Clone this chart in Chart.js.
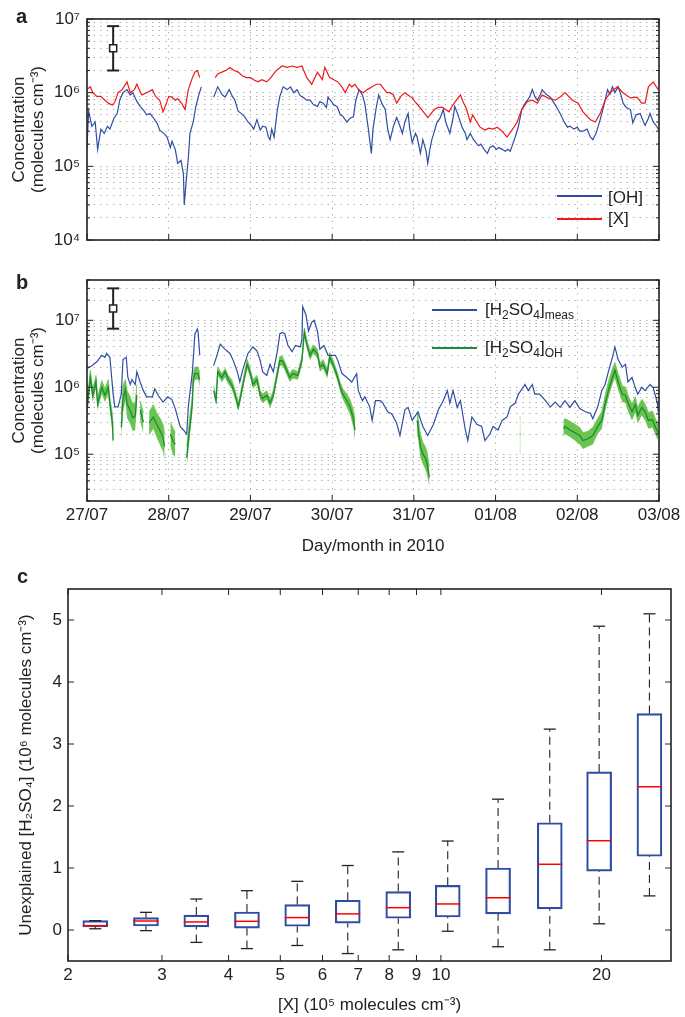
<!DOCTYPE html>
<html lang="en">
<head>
<meta charset="UTF-8">
<title>OH, X and H2SO4 concentrations</title>
<script src="https://cdn.jsdelivr.net/npm/chart.js@4.4.1/dist/chart.umd.min.js"></script>
<style>
  body { margin: 0; background: #fff; font-family: 'Liberation Sans', Arial, Helvetica, sans-serif; color: #222; }
  #page { position: relative; width: 685px; height: 1017px; overflow: hidden; }
  canvas { position: absolute; left: 0; }
  .panel { position: absolute; font-weight: bold; font-size: 20px; }
  .key { position: absolute; font-size: 17px; line-height: 20px; white-space: nowrap; }
  .key sub { font-size: 12px; vertical-align: -4px; line-height: 0; }
  .swatch { position: absolute; height: 1.5px; width: 45px; }
</style>
</head>
<body>
<div id="page">
  <canvas id="chartA" width="685" height="262" style="top:0"></canvas>
  <canvas id="chartB" width="685" height="300" style="top:262px"></canvas>
  <canvas id="chartC" width="685" height="455" style="top:562px"></canvas>

  <div class="panel" style="left:16px;top:5px">a</div>
  <div class="panel" style="left:16px;top:271px">b</div>
  <div class="panel" style="left:17px;top:565px">c</div>

  <!-- legend a -->
  <div class="swatch" style="left:557px;top:195px;background:#2f4ea3"></div>
  <div class="key" style="left:608px;top:188px">[OH]</div>
  <div class="swatch" style="left:557px;top:218px;background:#f01818"></div>
  <div class="key" style="left:608px;top:209px">[X]</div>

  <!-- legend b -->
  <div class="swatch" style="left:432px;top:309px;background:#2f4ea3"></div>
  <div class="key" style="left:485px;top:300px">[H<sub>2</sub>SO<sub>4</sub>]<sub>meas</sub></div>
  <div class="swatch" style="left:432px;top:347px;background:#1c8a36"></div>
  <div class="key" style="left:485px;top:338px">[H<sub>2</sub>SO<sub>4</sub>]<sub>OH</sub></div>
</div>
<script>
    // tick labels for the time axis (days after 27/07)
    const dayLabels = ['27/07', '28/07', '29/07', '30/07', '31/07', '01/08', '02/08', '03/08'];

    // panel a: [day, concentration]
    const ohConc = [[0.00,1.8e5],[0.02,5.6e5],[0.06,3.5e5],[0.10,4.0e5],[0.13,1.7e5],[0.17,3.2e5],[0.21,2.8e5],[0.25,3.5e5],[0.28,3.2e5],[0.33,4.5e5],[0.37,5.2e5],[0.40,7.9e5],[0.44,1.0e6],[0.49,1.1e6],[0.53,9.3e5],[0.56,1.0e6],[0.61,7.6e5],[0.65,6.5e5],[0.70,5.6e5],[0.73,5.0e5],[0.77,5.2e5],[0.81,4.6e5],[0.86,3.8e5],[0.89,3.1e5],[0.94,2.8e5],[0.98,2.5e5],[1.02,1.8e5],[1.04,2.2e5],[1.08,1.7e5],[1.11,1.1e5],[1.15,1.2e5],[1.18,7.9e4],[1.19,3.0e4],[1.21,5.6e4],[1.24,1.3e5],[1.26,2.8e5],[1.30,4.0e5],[1.33,6.3e5],[1.37,9.5e5],[1.40,1.2e6],[1.47,null],
        [1.55,8.7e5],[1.60,1.2e6],[1.65,9.5e5],[1.69,8.7e5],[1.74,1.1e6],[1.78,8.9e5],[1.81,7.9e5],[1.85,5.6e5],[1.89,5.2e5],[1.93,4.7e5],[1.97,4.0e5],[2.01,3.6e5],[2.04,3.2e5],[2.08,4.3e5],[2.12,3.1e5],[2.15,3.5e5],[2.19,3.4e5],[2.22,2.5e5],[2.24,2.3e5],[2.26,3.2e5],[2.29,2.5e5],[2.33,5.9e5],[2.36,8.9e5],[2.40,1.2e6],[2.45,1.1e6],[2.49,1.2e6],[2.53,1.0e6],[2.57,1.1e6],[2.61,9.1e5],[2.64,8.7e5],[2.69,7.9e5],[2.73,7.9e5],[2.77,6.9e5],[2.82,6.5e5],[2.85,7.6e5],[2.89,7.2e5],[2.93,6.3e5],[2.95,8.7e5],[2.99,7.6e5],
        [3.02,6.8e5],[3.06,6.5e5],[3.10,5.0e5],[3.13,4.8e5],[3.18,4.0e5],[3.22,4.5e5],[3.26,4.7e5],[3.29,7.9e5],[3.33,1.1e6],[3.37,9.3e5],[3.40,7.1e5],[3.44,3.4e5],[3.48,1.5e5],[3.50,3.2e5],[3.54,6.3e5],[3.57,9.3e5],[3.61,7.1e5],[3.65,5.9e5],[3.68,3.2e5],[3.71,2.3e5],[3.75,3.5e5],[3.79,4.6e5],[3.83,3.5e5],[3.86,2.8e5],[3.89,4.0e5],[3.93,5.2e5],[3.95,3.2e5],[3.98,2.1e5],[4.02,2.8e5],[4.04,2.5e5],[4.08,1.5e5],[4.11,2.3e5],[4.15,1.6e5],[4.17,1.1e5],[4.20,1.8e5],[4.22,2.3e5],[4.26,3.2e5],[4.28,3.9e5],[4.32,4.5e5],[4.36,5.9e5],[4.39,4.0e5],[4.44,2.8e5],[4.48,4.5e5],[4.50,6.5e5],[4.54,5.0e5],[4.59,3.4e5],[4.63,2.8e5],[4.65,2.3e5],[4.69,2.8e5],[4.73,2.3e5],[4.76,2.1e5],[4.79,1.9e5],[4.82,2.0e5],[4.86,1.7e5],[4.90,1.5e5],[4.93,1.8e5],[4.97,1.9e5],
        [5.01,1.7e5],[5.04,1.8e5],[5.08,1.7e5],[5.12,1.6e5],[5.15,1.7e5],[5.18,1.6e5],[5.21,2.0e5],[5.24,2.5e5],[5.28,3.5e5],[5.32,5.9e5],[5.36,7.1e5],[5.39,7.9e5],[5.42,8.9e5],[5.45,1.1e6],[5.48,8.9e5],[5.51,7.9e5],[5.55,9.5e5],[5.57,1.1e6],[5.62,9.5e5],[5.67,8.7e5],[5.72,7.1e5],[5.75,6.3e5],[5.79,5.2e5],[5.84,4.0e5],[5.88,3.4e5],[5.91,3.5e5],[5.96,3.2e5],[6.00,3.4e5],[6.03,3.0e5],[6.07,3.0e5],[6.12,3.2e5],[6.16,2.5e5],[6.19,2.3e5],[6.23,2.8e5],[6.28,4.3e5],[6.32,6.3e5],[6.37,1.1e6],[6.40,9.5e5],[6.43,1.2e6],[6.46,1.0e6],[6.50,1.2e6],[6.54,8.9e5],[6.56,7.2e5],[6.60,6.3e5],[6.65,5.9e5],[6.68,3.9e5],[6.72,5.0e5],[6.77,5.2e5],[6.81,4.0e5],[6.83,3.6e5],[6.87,4.5e5],[6.89,5.2e5],[6.93,4.0e5],[6.97,3.5e5],[7.00,3.1e5]];

    const xConc = [[0.00,1.1e6],[0.04,1.2e6],[0.07,1.0e6],[0.12,8.9e5],[0.17,8.9e5],[0.22,7.9e5],[0.27,7.1e5],[0.31,6.8e5],[0.34,7.4e5],[0.38,1.0e6],[0.43,1.1e6],[0.49,1.4e6],[0.53,1.0e6],[0.58,1.1e6],[0.61,1.3e6],[0.67,9.3e5],[0.73,1.0e6],[0.80,1.1e6],[0.84,8.9e5],[0.89,7.9e5],[0.93,5.5e5],[0.97,7.1e5],[1.00,8.9e5],[1.04,8.7e5],[1.08,7.9e5],[1.11,8.3e5],[1.16,7.1e5],[1.20,5.9e5],[1.24,1.1e6],[1.29,1.6e6],[1.32,1.9e6],[1.35,2.0e6],[1.38,1.6e6],[1.46,null],
        [1.57,1.6e6],[1.60,1.8e6],[1.65,1.9e6],[1.70,2.0e6],[1.75,2.2e6],[1.80,2.0e6],[1.85,1.9e6],[1.90,1.7e6],[1.95,1.6e6],[2.00,1.6e6],[2.04,1.5e6],[2.09,1.4e6],[2.14,1.5e6],[2.20,1.4e6],[2.25,1.6e6],[2.30,1.9e6],[2.34,2.1e6],[2.39,2.3e6],[2.45,2.2e6],[2.51,2.3e6],[2.57,2.2e6],[2.63,2.3e6],[2.69,1.6e6],[2.75,1.3e6],[2.82,1.9e6],[2.88,1.5e6],[2.91,2.2e6],[2.97,1.6e6],
        [3.02,1.5e6],[3.07,1.4e6],[3.12,1.2e6],[3.16,1.0e6],[3.21,1.3e6],[3.24,1.2e6],[3.28,1.3e6],[3.32,1.1e6],[3.38,1.0e6],[3.43,1.1e6],[3.49,1.2e6],[3.54,1.3e6],[3.59,1.3e6],[3.64,1.1e6],[3.67,1.0e6],[3.71,1.0e6],[3.75,9.3e5],[3.79,7.2e5],[3.84,8.9e5],[3.89,1.0e6],[3.94,9.1e5],[3.98,8.5e5],[4.01,7.6e5],[4.05,6.8e5],[4.11,5.6e5],[4.17,4.6e5],[4.21,5.2e5],[4.25,5.9e5],[4.30,6.3e5],[4.35,6.3e5],[4.39,5.9e5],[4.43,5.5e5],[4.47,6.6e5],[4.52,7.9e5],[4.57,9.3e5],[4.60,7.6e5],[4.64,6.2e5],[4.69,4.0e5],[4.72,5.0e5],[4.77,4.0e5],[4.81,3.4e5],[4.87,3.1e5],[4.92,3.3e5],[4.97,3.2e5],
        [5.02,3.4e5],[5.08,3.0e5],[5.14,2.5e5],[5.20,3.1e5],[5.26,3.9e5],[5.32,5.9e5],[5.39,7.6e5],[5.45,7.9e5],[5.51,7.2e5],[5.57,9.3e5],[5.64,8.5e5],[5.73,7.9e5],[5.79,8.7e5],[5.85,1.0e6],[5.94,7.9e5],[6.01,7.2e5],[6.07,5.5e5],[6.16,4.3e5],[6.22,4.0e5],[6.28,5.2e5],[6.34,7.9e5],[6.40,1.0e6],[6.49,1.2e6],[6.56,1.0e6],[6.65,8.5e5],[6.73,8.7e5],[6.79,7.2e5],[6.83,7.2e5],[6.87,1.2e6],[6.93,1.4e6],[6.99,1.1e6]];

    // panel b: measured H2SO4 [day, concentration]
    const h2so4Meas = [[0.00,1.9e6],[0.06,2.1e6],[0.12,2.4e6],[0.18,3.0e6],[0.22,2.8e6],[0.24,3.2e6],[0.28,2.8e6],[0.32,7.9e5],[0.34,5.1e5],[0.38,5.1e5],[0.42,7.9e5],[0.44,2.6e6],[0.48,2.8e6],[0.50,1.4e6],[0.53,1.1e6],[0.55,1.3e6],[0.59,1.1e6],[0.61,1.7e6],[0.65,1.2e6],[0.69,8.9e5],[0.73,7.2e5],[0.80,7.2e5],[0.83,9.5e5],[0.87,7.6e5],[0.93,6.0e5],[0.99,7.2e5],[1.04,6.5e5],[1.08,4.8e5],[1.14,2.6e5],[1.18,2.3e5],[1.22,2.0e5],[1.24,5.1e5],[1.29,1.7e6],[1.32,6.2e6],[1.35,7.4e6],[1.36,6.6e6],[1.38,3.0e6],[1.46,null],
        [1.55,2.1e6],[1.59,3.0e6],[1.63,4.4e6],[1.66,4.0e6],[1.71,3.5e6],[1.75,3.2e6],[1.79,2.5e6],[1.84,1.7e6],[1.87,1.2e6],[1.91,1.9e6],[1.97,3.2e6],[2.03,4.0e6],[2.08,3.5e6],[2.12,2.5e6],[2.15,1.7e6],[2.20,1.5e6],[2.24,2.2e6],[2.28,1.7e6],[2.33,3.5e6],[2.36,6.3e6],[2.39,6.6e6],[2.42,6.3e6],[2.46,4.2e6],[2.51,3.4e6],[2.55,4.2e6],[2.61,4.0e6],[2.63,5.2e6],[2.64,1.6e7],[2.68,1.2e7],[2.71,6.9e6],[2.75,9.3e6],[2.78,1.0e7],[2.82,6.9e6],[2.85,3.7e6],[2.90,4.2e6],[2.95,3.0e6],
        [3.00,3.0e6],[3.04,3.0e6],[3.07,2.5e6],[3.12,1.6e6],[3.18,1.4e6],[3.24,1.2e6],[3.30,1.6e6],[3.32,8.9e5],[3.37,6.3e5],[3.40,7.2e5],[3.46,5.1e5],[3.49,3.2e5],[3.53,6.3e5],[3.59,6.3e5],[3.62,5.8e5],[3.68,4.3e5],[3.73,4.0e5],[3.79,2.9e5],[3.83,1.9e5],[3.89,4.6e5],[3.93,5.0e5],[3.98,3.2e5],[4.05,4.3e5],[4.11,2.6e5],[4.17,1.9e5],[4.24,2.8e5],[4.30,4.6e5],[4.36,6.3e5],[4.41,8.9e5],[4.44,5.8e5],[4.48,8.9e5],[4.53,5.0e5],[4.57,6.3e5],[4.63,2.3e5],[4.66,1.6e5],[4.71,3.6e5],[4.77,2.8e5],[4.83,2.6e5],[4.87,1.6e5],[4.93,2.0e5],[4.97,2.6e5],
        [5.03,2.3e5],[5.08,3.2e5],[5.14,3.6e5],[5.18,5.1e5],[5.24,5.8e5],[5.28,7.9e5],[5.32,9.3e5],[5.36,1.1e6],[5.40,8.9e5],[5.45,1.1e6],[5.48,7.9e5],[5.54,7.9e5],[5.61,6.3e5],[5.67,5.1e5],[5.73,6.0e5],[5.79,5.0e5],[5.85,6.3e5],[5.91,5.0e5],[5.97,6.3e5],[6.03,4.8e5],[6.10,4.3e5],[6.16,4.1e5],[6.19,3.4e5],[6.25,5.1e5],[6.30,8.9e5],[6.34,1.1e6],[6.38,1.7e6],[6.43,2.8e6],[6.46,4.0e6],[6.50,2.6e6],[6.55,2.0e6],[6.59,2.2e6],[6.62,1.2e6],[6.67,1.4e6],[6.71,9.8e5],[6.74,7.9e5],[6.79,1.0e6],[6.83,8.9e5],[6.89,1.1e6],[6.93,9.8e5],[6.98,5.8e5],[6.99,4.3e5]];

    // panel b: H2SO4 from OH [day, central, low, high]
    const h2so4OH = [[0.00,4.5e5,3.5e5,5.6e5],[0.04,1.4e6,1.1e6,1.8e6],[0.07,7.6e5,6.0e5,9.5e5],[0.11,1.2e6,9.5e5,1.5e6],[0.13,5.6e5,4.5e5,7.1e5],[0.18,1.0e6,7.9e5,1.26e6],[0.22,7.6e5,6.0e5,9.5e5],[0.26,1.0e6,7.9e5,1.3e6],[0.28,5.6e5,4.5e5,7.1e5],[0.31,3.0e5,2.2e5,4.0e5],[0.32,1.6e5,1.1e5,2.2e5],[0.38,null,null,null],
        [0.42,2.5e5,1.6e5,4.0e5],[0.44,6.6e5,4.2e5,1.05e6],[0.47,9.3e5,6.3e5,1.3e6],[0.49,5.6e5,3.5e5,8.9e5],[0.53,4.5e5,2.8e5,7.1e5],[0.56,3.5e5,2.2e5,5.6e5],[0.59,3.7e5,2.3e5,5.9e5],[0.61,7.6e5,5.0e5,1.1e6],[0.63,null,null,null],
        [0.65,4.6e5,3.2e5,6.3e5],[0.69,3.0e5,2.0e5,4.2e5],[0.72,null,null,null],
        [0.76,2.9e5,1.9e5,4.2e5],[0.81,3.6e5,2.4e5,5.5e5],[0.86,2.7e5,1.7e5,4.0e5],[0.89,2.3e5,1.4e5,3.5e5],[0.93,1.8e5,1.1e5,2.8e5],[0.95,1.3e5,7.9e4,2.0e5],[0.99,null,null,null],
        [1.02,2.0e5,1.3e5,3.0e5],[1.05,1.6e5,1.0e5,2.5e5],[1.08,1.4e5,8.9e4,2.1e5],[1.15,null,null,null],
        [1.22,8.9e4,6.3e4,1.3e5],[1.26,2.7e5,1.9e5,3.8e5],[1.29,5.8e5,4.4e5,7.6e5],[1.30,1.3e6,1.0e6,1.6e6],[1.32,1.6e6,1.3e6,2.0e6],[1.36,1.6e6,1.3e6,2.0e6],[1.38,1.3e6,1.0e6,1.6e6],[1.46,null,null,null],
        [1.55,8.9e5,7.6e5,1.04e6],[1.58,6.3e5,5.4e5,7.4e5],[1.60,1.7e6,1.5e6,2.0e6],[1.65,1.4e6,1.2e6,1.6e6],[1.69,1.7e6,1.4e6,1.9e6],[1.73,1.3e6,1.1e6,1.5e6],[1.77,1.1e6,9.6e5,1.3e6],[1.81,7.9e5,6.8e5,9.3e5],[1.85,5.1e5,4.4e5,6.0e5],[1.87,6.3e5,5.4e5,7.4e5],[1.91,1.1e6,9.6e5,1.3e6],[1.96,2.2e6,1.9e6,2.6e6],[2.00,1.6e6,1.35e6,1.85e6],[2.03,1.1e6,9.6e5,1.3e6],[2.08,1.3e6,1.1e6,1.5e6],[2.12,7.6e5,6.5e5,8.9e5],[2.15,6.8e5,5.8e5,7.9e5],[2.20,7.6e5,6.5e5,8.9e5],[2.24,5.8e5,4.9e5,6.8e5],[2.28,7.6e5,6.5e5,8.9e5],[2.33,1.6e6,1.35e6,1.85e6],[2.36,2.5e6,2.1e6,2.9e6],[2.39,2.5e6,2.1e6,2.9e6],[2.42,2.1e6,1.8e6,2.4e6],[2.48,1.4e6,1.2e6,1.6e6],[2.52,1.6e6,1.35e6,1.85e6],[2.58,1.5e6,1.3e6,1.7e6],[2.63,2.5e6,2.1e6,2.9e6],[2.66,6.6e6,5.6e6,7.7e6],[2.69,4.4e6,3.7e6,5.1e6],[2.73,3.0e6,2.5e6,3.5e6],[2.77,3.7e6,3.2e6,4.3e6],[2.82,3.2e6,2.7e6,3.7e6],[2.85,2.0e6,1.7e6,2.3e6],[2.89,2.2e6,1.9e6,2.6e6],[2.94,1.6e6,1.35e6,1.85e6],[2.97,2.8e6,2.4e6,3.3e6],[3.01,2.2e6,1.9e6,2.6e6],[3.06,1.5e6,1.3e6,1.7e6],[3.10,1.0e6,8.5e5,1.17e6],[3.13,7.9e5,6.6e5,9.5e5],[3.18,6.3e5,5.0e5,7.9e5],[3.22,5.0e5,3.9e5,6.5e5],[3.26,3.4e5,2.5e5,4.6e5],[3.28,2.3e5,1.6e5,3.2e5],[3.40,null,null,null],
        [4.04,3.2e5,2.4e5,4.2e5],[4.05,2.6e5,1.8e5,3.6e5],[4.08,1.3e5,8.9e4,2.0e5],[4.11,1.0e5,7.1e4,1.5e5],[4.14,8.9e4,6.0e4,1.3e5],[4.16,7.4e4,5.0e4,1.1e5],[4.19,4.5e4,3.2e4,6.6e4],[4.25,null,null,null],
        [5.295,2.0e5,1.0e5,3.6e5],[5.305,2.0e5,1.0e5,3.6e5],[5.35,null,null,null],
        [5.83,2.4e5,1.8e5,3.2e5],[5.85,2.6e5,2.0e5,3.4e5],[5.91,2.3e5,1.8e5,3.1e5],[5.97,2.1e5,1.6e5,2.8e5],[6.03,1.9e5,1.4e5,2.5e5],[6.07,1.6e5,1.2e5,2.1e5],[6.13,1.7e5,1.3e5,2.2e5],[6.19,1.9e5,1.4e5,2.5e5],[6.25,2.6e5,2.0e5,3.4e5],[6.30,3.2e5,2.4e5,4.3e5],[6.34,5.6e5,4.3e5,7.4e5],[6.38,8.9e5,6.8e5,1.2e6],[6.43,1.4e6,1.1e6,1.9e6],[6.46,1.8e6,1.35e6,2.35e6],[6.50,1.2e6,9.1e5,1.6e6],[6.55,7.9e5,6.0e5,1.05e6],[6.59,7.6e5,5.8e5,1.0e6],[6.62,5.8e5,4.4e5,7.6e5],[6.67,4.3e5,3.2e5,5.6e5],[6.71,5.5e5,4.2e5,7.2e5],[6.74,3.8e5,2.9e5,5.0e5],[6.79,5.0e5,3.8e5,6.6e5],[6.83,4.3e5,3.2e5,5.6e5],[6.87,3.2e5,2.4e5,4.2e5],[6.92,3.3e5,2.5e5,4.4e5],[6.95,2.6e5,2.0e5,3.5e5],[6.99,2.1e5,1.6e5,2.8e5]];

    // typical uncertainty markers [day, central, low, high]
    const errorA = [0.32, 4e6, 2e6, 8e6];
    const errorB = [0.32, 1.5e7, 7.5e6, 3e7];

    // panel c: box plot statistics per [X] bin
    const xBins = [2.25, 2.80, 3.48, 4.33, 5.38, 6.69, 8.32, 10.3, 12.8, 16.0, 19.8, 24.6];
    const whiskerLow = [0.02, -0.01, -0.20, -0.30, -0.25, -0.38, -0.32, -0.02, -0.27, -0.32, 0.10, 0.55];
    const quartile1 = [0.05, 0.065, 0.05, 0.03, 0.06, 0.11, 0.19, 0.21, 0.26, 0.34, 0.95, 1.19];
    const medians = [0.07, 0.145, 0.13, 0.14, 0.20, 0.26, 0.36, 0.42, 0.52, 1.06, 1.44, 2.31];
    const quartile3 = [0.15, 0.20, 0.24, 0.29, 0.41, 0.48, 0.62, 0.72, 1.00, 1.73, 2.55, 3.49];
    const whiskerHigh = [0.15, 0.285, 0.50, 0.634, 0.785, 1.04, 1.26, 1.435, 2.11, 3.24, 4.90, 5.10];
    const xTickValues = [2, 3, 4, 5, 6, 7, 8, 9, 10, 20];

    const ohBlue = '#2f4ea3';
    const xRed = '#f01818';
    const darkGreen = '#1c8a36';
    const lightGreen = '#6cc450';
    const ink = '#222';
    const gridColor = '#b4b4b4';

    Chart.defaults.font.family = "'Liberation Sans', Arial, Helvetica, sans-serif";
    Chart.defaults.font.size = 17;
    Chart.defaults.color = ink;
    Chart.defaults.animation = false;
    Chart.defaults.plugins.legend.display = false;
    Chart.defaults.plugins.tooltip.enabled = false;

    // black box round the plot area with inward ticks on all four sides
    const frameTicks = {
        id: 'frameTicks',
        afterDatasetsDraw(chart, args, opts) {
            const {ctx, chartArea: a, scales} = chart;
            ctx.save();
            ctx.strokeStyle = ink;
            ctx.lineWidth = 1;
            ctx.beginPath();
            scales.x.ticks.forEach(t => {
                const px = scales.x.getPixelForValue(t.value);
                const len = t.major ? opts.major : opts.minor;
                ctx.moveTo(px, a.bottom); ctx.lineTo(px, a.bottom - len);
                ctx.moveTo(px, a.top); ctx.lineTo(px, a.top + len);
            });
            scales.y.ticks.forEach(t => {
                const py = scales.y.getPixelForValue(t.value);
                const len = t.major ? opts.major : opts.minor;
                ctx.moveTo(a.left, py); ctx.lineTo(a.left + len, py);
                ctx.moveTo(a.right, py); ctx.lineTo(a.right - len, py);
            });
            ctx.stroke();
            ctx.lineWidth = 1.6;
            ctx.strokeRect(a.left, a.top, a.right - a.left, a.bottom - a.top);
            ctx.restore();
        }
    };

    const sup = {4: '⁴', 5: '⁵', 6: '⁶', 7: '⁷'};

    // log ticks 1..9 x 10^n between lo and hi
    function logTicks(lo, hi) {
        const out = [];
        for (let e = Math.floor(Math.log10(lo)); e <= Math.ceil(Math.log10(hi)); e++) {
            for (let m = 1; m <= 9; m++) {
                const v = m * Math.pow(10, e);
                if (v >= lo * 0.999 && v <= hi * 1.001) out.push({value: v, major: m === 1});
            }
        }
        return out;
    }

    function concAxis(lo, hi) {
        return {
            type: 'logarithmic',
            min: lo,
            max: hi,
            afterBuildTicks: s => { s.ticks = logTicks(lo, hi); },
            afterFit: s => { s.width = 87; },
            grid: { color: gridColor, drawTicks: false },
            border: { display: false, dash: [1.5, 5] },
            ticks: {
                padding: 7,
                autoSkip: false,
                callback: v => {
                    const e = Math.round(Math.log10(v));
                    return Math.abs(Math.pow(10, e) - v) < 1e-6 * v ? '10' + sup[e] : '';
                }
            },
            title: {
                display: true,
                text: ['Concentration', '(molecules cm⁻³)'],
                font: { size: 17, lineHeight: 1.1 },
                padding: { top: 10, bottom: 0 }
            }
        };
    }

    function dayAxis(height, showLabels) {
        return {
            type: 'linear',
            min: 0,
            max: 7,
            afterBuildTicks: s => { s.ticks = dayLabels.map((_, i) => ({value: i, major: true})); },
            afterFit: s => { s.height = height; },
            grid: { color: gridColor, drawTicks: false },
            border: { display: false, dash: [1.5, 5] },
            ticks: {
                display: showLabels,
                padding: 4,
                maxRotation: 0,
                autoSkip: false,
                callback: v => dayLabels[Math.round(v)]
            },
            title: {
                display: showLabels,
                text: 'Day/month in 2010',
                font: { size: 17, lineHeight: 1.1 },
                padding: { top: 0, bottom: 6 }
            }
        };
    }

    const pts = (rows, k) => rows.map(r => ({x: r[0], y: r[k]}));

    // lower order is drawn on top
    function lineSet(data, color, width, order) {
        return { type: 'line', data, borderColor: color, borderWidth: width, pointRadius: 0,
                 spanGaps: false, fill: false, tension: 0, order };
    }

    function errorSets(e) {
        return [
            { type: 'line', data: [{x: e[0], y: e[2]}, {x: e[0], y: e[3]}], borderColor: ink, borderWidth: 2,
              pointStyle: 'line', pointRadius: 6, pointBorderWidth: 2, pointBorderColor: ink, order: 0 },
            { type: 'line', data: [{x: e[0], y: e[1]}], showLine: false, pointStyle: 'rect', pointRadius: 5,
              pointBackgroundColor: '#fff', pointBorderColor: ink, pointBorderWidth: 1.5, order: -1 }
        ];
    }

    // panel a
    new Chart(document.getElementById('chartA'), {
        type: 'line',
        data: {
            datasets: [
                lineSet(pts(ohConc, 1), ohBlue, 1.2, 2),
                lineSet(pts(xConc, 1), xRed, 1.2, 1),
                ...errorSets(errorA)
            ]
        },
        options: {
            responsive: false,
            layout: { padding: { top: 19, right: 26, bottom: 0, left: 0 } },
            scales: { x: dayAxis(22, false), y: concAxis(1e4, 1e7) },
            plugins: { frameTicks: { major: 6, minor: 3 } }
        },
        plugins: [frameTicks]
    });

    // panel b
    new Chart(document.getElementById('chartB'), {
        type: 'line',
        data: {
            datasets: [
                { type: 'line', data: pts(h2so4OH, 2), borderWidth: 0, borderColor: 'rgba(0,0,0,0)',
                  pointRadius: 0, fill: false, order: 5 },
                { type: 'line', data: pts(h2so4OH, 3), borderWidth: 0.8, borderColor: lightGreen, pointRadius: 0,
                  fill: '-1', backgroundColor: lightGreen, order: 4 },
                lineSet(pts(h2so4Meas, 1), ohBlue, 1.2, 3),
                lineSet(pts(h2so4OH, 1), darkGreen, 1.3, 2),
                ...errorSets(errorB)
            ]
        },
        options: {
            responsive: false,
            layout: { padding: { top: 18, right: 26, bottom: 0, left: 0 } },
            scales: { x: dayAxis(61, true), y: concAxis(2e4, 4e7) },
            plugins: { frameTicks: { major: 6, minor: 3 } }
        },
        plugins: [frameTicks]
    });

    // panel c: box plot built from floating bars, dashed whiskers and line markers
    const whiskers = [];
    xBins.forEach((x, i) => {
        whiskers.push({x, y: whiskerLow[i]}, {x, y: quartile1[i]}, {x, y: null},
                      {x, y: quartile3[i]}, {x, y: whiskerHigh[i]}, {x, y: null});
    });
    const caps = xBins.flatMap((x, i) => [{x, y: whiskerLow[i]}, {x, y: whiskerHigh[i]}]);

    new Chart(document.getElementById('chartC'), {
        type: 'bar',
        data: {
            datasets: [
                { type: 'bar', data: xBins.map((x, i) => ({x, y: [quartile1[i], quartile3[i]]})),
                  backgroundColor: 'rgba(255,255,255,0)', borderColor: ohBlue, borderWidth: 1.5,
                  borderSkipped: false, barThickness: 25, order: 4 },
                { type: 'line', data: whiskers, borderColor: ink, borderWidth: 1.1, borderDash: [8, 5],
                  pointRadius: 0, spanGaps: false, order: 3 },
                { type: 'line', data: caps, showLine: false, pointStyle: 'line', pointRadius: 6,
                  pointBorderColor: ink, pointBorderWidth: 1.3, order: 2 },
                { type: 'line', data: xBins.map((x, i) => ({x, y: medians[i]})), showLine: false,
                  pointStyle: 'line', pointRadius: 12.5, pointBorderColor: '#ff0000', pointBorderWidth: 1.5, order: 1 }
            ]
        },
        options: {
            responsive: false,
            layout: { padding: { top: 27, right: 7, bottom: 0, left: 0 } },
            scales: {
                x: {
                    type: 'logarithmic',
                    min: 2,
                    max: 27,
                    offset: false,
                    afterBuildTicks: s => { s.ticks = xTickValues.map(v => ({value: v, major: true})); },
                    afterFit: s => { s.height = 56; },
                    grid: { display: false, drawTicks: false, offset: false },
                    border: { display: false },
                    ticks: { padding: 4, maxRotation: 0, autoSkip: false, callback: v => String(v) },
                    title: {
                        display: true,
                        text: '[X] (10⁵ molecules cm⁻³)',
                        font: { size: 17, lineHeight: 1.1 },
                        padding: { top: 0, bottom: 2 }
                    }
                },
                y: {
                    type: 'linear',
                    min: -0.5,
                    max: 5.5,
                    afterBuildTicks: s => { s.ticks = [0, 1, 2, 3, 4, 5].map(v => ({value: v, major: true})); },
                    afterFit: s => { s.width = 68; },
                    grid: { display: false, drawTicks: false },
                    border: { display: false },
                    ticks: { padding: 6, callback: v => String(v) },
                    title: {
                        display: true,
                        text: 'Unexplained [H₂SO₄] (10⁶ molecules cm⁻³)',
                        font: { size: 17, lineHeight: 1.1 },
                        padding: { top: 17, bottom: 0 }
                    }
                }
            },
            plugins: { frameTicks: { major: 6, minor: 6 } }
        },
        plugins: [frameTicks]
    });
</script>
</body>
</html>
